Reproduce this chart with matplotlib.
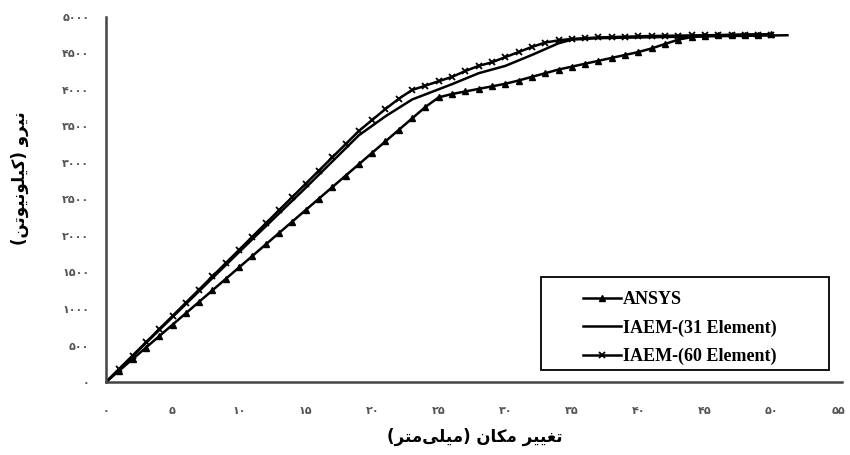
import matplotlib
matplotlib.use('Agg')
import matplotlib.pyplot as plt
from matplotlib.patches import Rectangle
from matplotlib.lines import Line2D

# Data (displacement mm, force kN)
ansys_x = [0, 1, 2, 3, 4, 5, 6, 7, 8, 9, 10, 11, 12, 13, 14, 15, 16, 17, 18, 19,
           20, 21, 22, 23, 24, 25, 26, 27, 28, 29, 30, 31, 32, 33, 34, 35, 36, 37,
           38, 39, 40, 41, 42, 43, 44, 45, 46, 47, 48, 49, 50]
ansys_y = [0, 157, 314, 471, 628, 785, 942, 1099, 1256, 1413, 1570, 1727, 1884,
           2041, 2198, 2355, 2512, 2669, 2826, 2983, 3140, 3297, 3454, 3611, 3768,
           3900, 3945, 3980, 4015, 4050, 4085, 4130, 4180, 4230, 4280, 4320, 4360,
           4400, 4440, 4480, 4520, 4570, 4630, 4690, 4725, 4740, 4750, 4755, 4760,
           4760, 4765]

iaem31_x = [0, 5, 10, 15, 19, 21, 23, 24, 26, 28, 30, 32, 34, 35, 37, 40, 45, 51.2]
iaem31_y = [0, 890, 1780, 2660, 3380, 3640, 3870, 3940, 4080, 4230, 4330, 4480,
            4640, 4690, 4710, 4720, 4735, 4750]

iaem60_x = [0, 1, 2, 3, 4, 5, 6, 7, 8, 9, 10, 11, 12, 13, 14, 15, 16, 17, 18, 19,
            20, 21, 22, 23, 24, 25, 26, 27, 28, 29, 30, 31, 32, 33, 34, 35, 36, 37,
            38, 39, 40, 41, 42, 43, 44, 45, 46, 47, 48, 49, 50]
iaem60_y = [0, 181, 362, 543, 724, 905, 1086, 1267, 1448, 1629, 1810, 1991, 2172,
            2353, 2534, 2715, 2896, 3077, 3258, 3439, 3590, 3740, 3880, 4000, 4060,
            4120, 4180, 4260, 4330, 4380, 4450, 4520, 4590, 4650, 4680, 4700, 4710,
            4720, 4725, 4730, 4735, 4740, 4742, 4745, 4748, 4750, 4752, 4754, 4756,
            4758, 4760]

x_ticks = [0, 5, 10, 15, 20, 25, 30, 35, 40, 45, 50, 55]
y_ticks = [0, 500, 1000, 1500, 2000, 2500, 3000, 3500, 4000, 4500, 5000]
series_labels = ['ANSYS', 'IAEM-(31 Element)', 'IAEM-(60 Element)']
x_title = 'تغییر مکان (میلی\u200cمتر)'
y_title = 'نیرو (کیلونیوتن)'

FA_DIGITS = str.maketrans('0123456789', '۰۱۲۳۴۵۶۷۸۹')

# presentation forms: isolated, final, initial, medial
FORMS = {
    'ا': ('\uFE8D', '\uFE8E', None, None),
    'ر': ('\uFEAD', '\uFEAE', None, None),
    'و': ('\uFEED', '\uFEEE', None, None),
    'ت': ('\uFE95', '\uFE96', '\uFE97', '\uFE98'),
    'غ': ('\uFECD', '\uFECE', '\uFECF', '\uFED0'),
    'ک': ('\uFB8E', '\uFB8F', '\uFB90', '\uFB91'),
    'ل': ('\uFEDD', '\uFEDE', '\uFEDF', '\uFEE0'),
    'م': ('\uFEE1', '\uFEE2', '\uFEE3', '\uFEE4'),
    'ن': ('\uFEE5', '\uFEE6', '\uFEE7', '\uFEE8'),
    'ی': ('\uFBFC', '\uFBFD', '\uFBFE', '\uFBFF'),
}


def shape(s):
    # matplotlib has no arabic shaping, so join letters by hand and reverse
    out = []
    for i, ch in enumerate(s):
        if ch not in FORMS:
            out.append(ch)
            continue
        prev = s[i - 1] if i > 0 else ''
        nxt = s[i + 1] if i + 1 < len(s) else ''
        iso, fin, ini, med = FORMS[ch]
        jp = prev in FORMS and FORMS[prev][2] is not None
        jn = ini is not None and nxt in FORMS
        if jp and jn:
            out.append(med)
        elif jp:
            out.append(fin)
        elif jn:
            out.append(ini)
        else:
            out.append(iso)
    vis = ''.join(reversed(out)).replace('\u200c', '')
    return vis.translate(str.maketrans('()', ')('))


fig = plt.figure(figsize=(8.5, 4.55), dpi=100)
ax = fig.add_axes([106 / 850, 1 - 382 / 455, (842 - 106) / 850, (382 - 17) / 455])

ax.plot(ansys_x, ansys_y, color='black', lw=1.8, marker='^', ms=4.5,
        label=series_labels[0])
ax.plot(iaem31_x, iaem31_y, color='black', lw=1.8, label=series_labels[1])
ax.plot(iaem60_x, iaem60_y, color='black', lw=1.8, marker='x', ms=4, mew=1.3,
        label=series_labels[2])

ax.set_xlim(0, 55.3)
ax.set_ylim(0, 5000)
ax.set_xticks(x_ticks)
ax.set_xticklabels([str(v).translate(FA_DIGITS) for v in x_ticks])
ax.set_yticks(y_ticks)
ax.set_yticklabels([str(v).translate(FA_DIGITS) for v in y_ticks])
ax.tick_params(length=0, labelsize=8, labelcolor='#555555')
ax.tick_params(axis='x', pad=17)
ax.tick_params(axis='y', pad=12)
for t in ax.get_xticklabels() + ax.get_yticklabels():
    t.set_fontweight('bold')

for side in ['top', 'right']:
    ax.spines[side].set_visible(False)
for side in ['left', 'bottom']:
    ax.spines[side].set_color('#444444')
    ax.spines[side].set_linewidth(1.8)

fig.text(475 / 850, 1 - 437 / 455, shape(x_title), ha='center', va='center',
         fontsize=12, fontweight='bold')
fig.text(20 / 850, 1 - 178 / 455, shape(y_title), ha='center', va='center',
         rotation=90, fontsize=12, fontweight='bold')

# legend box
fig.patches.append(Rectangle((541 / 850, 1 - 370 / 455), 288 / 850, 93 / 455,
                             transform=fig.transFigure, fill=False,
                             edgecolor='black', lw=1.3))
handles = [Line2D([], [], color='black', lw=1.8, marker='^', ms=4),
           Line2D([], [], color='black', lw=1.8),
           Line2D([], [], color='black', lw=1.8, marker='x', ms=4, mew=1.3)]
fig.legend(handles, series_labels, loc='upper left',
           bbox_to_anchor=(574 / 850, 1 - 282 / 455), frameon=False,
           prop={'family': 'Liberation Serif', 'weight': 'bold', 'size': 13},
           handlelength=2.1, handletextpad=0.1, labelspacing=0.62,
           borderpad=0)

fig.savefig('out.png', dpi=100)
